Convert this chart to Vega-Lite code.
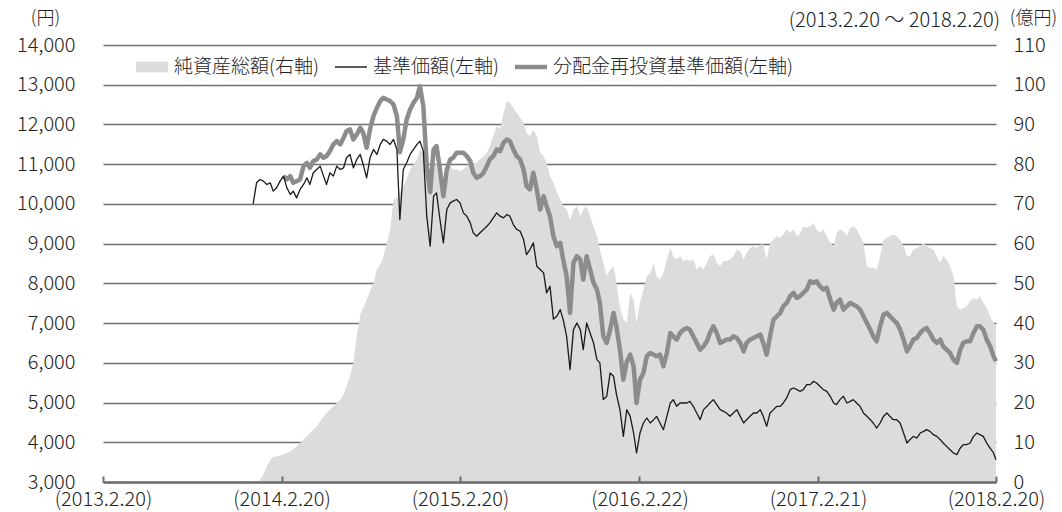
{
  "$schema": "https://vega.github.io/schema/vega-lite/v6.json",
  "width": 893,
  "height": 437,
  "autosize": {"type": "none"},
  "padding": {"left": 103, "top": 45, "right": 66, "bottom": 30},
  "background": "white",
  "config": {"view": {"stroke": null}, "font": "Noto Sans CJK JP"},
  "title": {"text": "(2013.2.20 ～ 2018.2.20)", "anchor": "end", "frame": "group", "fontSize": 20, "fontWeight": 300, "color": "#222222", "font": "Noto Sans CJK JP", "dx": 4, "dy": 22, "offset": 0},
  "data": {"values": [
    {"d": "2013-12-24", "price": 10000},
    {"d": "2013-12-31", "price": 10531},
    {"d": "2014-01-07", "price": 10615, "nav": 0.6},
    {"d": "2014-01-14", "price": 10573, "nav": 1.8},
    {"d": "2014-01-21", "price": 10489, "nav": 3.9},
    {"d": "2014-01-28", "price": 10531, "nav": 5.6},
    {"d": "2014-02-03", "price": 10321, "nav": 6.3},
    {"d": "2014-02-10", "price": 10405, "nav": 6.5},
    {"d": "2014-02-17", "price": 10573, "nav": 6.6},
    {"d": "2014-02-24", "price": 10699, "reinv": 10699, "nav": 6.9},
    {"d": "2014-03-03", "price": 10405, "reinv": 10615, "nav": 7.3},
    {"d": "2014-03-10", "price": 10237, "reinv": 10699, "nav": 7.7},
    {"d": "2014-03-16", "price": 10321, "reinv": 10531, "nav": 8.3},
    {"d": "2014-03-23", "price": 10153, "reinv": 10573, "nav": 9.0},
    {"d": "2014-03-30", "price": 10363, "reinv": 10615, "nav": 9.8},
    {"d": "2014-04-06", "price": 10489, "reinv": 10951, "nav": 10.7},
    {"d": "2014-04-13", "price": 10657, "reinv": 11035, "nav": 11.5},
    {"d": "2014-04-19", "price": 10489, "reinv": 10909, "nav": 12.3},
    {"d": "2014-04-26", "price": 10783, "reinv": 11077, "nav": 13.2},
    {"d": "2014-05-03", "price": 10867, "reinv": 11119, "nav": 14.0},
    {"d": "2014-05-10", "price": 10951, "reinv": 11245, "nav": 15.3},
    {"d": "2014-05-17", "price": 10699, "reinv": 11161, "nav": 16.5},
    {"d": "2014-05-23", "price": 10489, "reinv": 11203, "nav": 17.4},
    {"d": "2014-05-30", "price": 10783, "reinv": 11329, "nav": 18.2},
    {"d": "2014-06-06", "price": 10699, "reinv": 11497, "nav": 19.0},
    {"d": "2014-06-13", "price": 10951, "reinv": 11581, "nav": 19.9},
    {"d": "2014-06-20", "price": 10867, "reinv": 11497, "nav": 20.7},
    {"d": "2014-06-27", "price": 10909, "reinv": 11665, "nav": 22.0},
    {"d": "2014-07-03", "price": 11161, "reinv": 11833, "nav": 24.1},
    {"d": "2014-07-10", "price": 11245, "reinv": 11875, "nav": 26.6},
    {"d": "2014-07-17", "price": 10909, "reinv": 11623, "nav": 30.0},
    {"d": "2014-07-24", "price": 11119, "reinv": 11749, "nav": 36.7},
    {"d": "2014-07-31", "price": 11245, "reinv": 11917, "nav": 42.1},
    {"d": "2014-08-06", "price": 10993, "reinv": 11791, "nav": 43.8},
    {"d": "2014-08-13", "price": 10657, "reinv": 11413, "nav": 45.9},
    {"d": "2014-08-20", "price": 11161, "reinv": 11875, "nav": 48.0},
    {"d": "2014-08-27", "price": 11371, "reinv": 12210, "nav": 50.1},
    {"d": "2014-09-03", "price": 11245, "reinv": 12420, "nav": 53.5},
    {"d": "2014-09-10", "price": 11497, "reinv": 12588, "nav": 54.7},
    {"d": "2014-09-16", "price": 11623, "reinv": 12672, "nav": 56.5},
    {"d": "2014-09-23", "price": 11581, "reinv": 12630, "nav": 60.0},
    {"d": "2014-09-30", "price": 11497, "reinv": 12588, "nav": 63.5},
    {"d": "2014-10-07", "price": 11623, "reinv": 12504, "nav": 71.1},
    {"d": "2014-10-14", "price": 11371, "reinv": 12210, "nav": 71.5},
    {"d": "2014-10-20", "price": 9607, "reinv": 11300, "nav": 72.8},
    {"d": "2014-10-27", "price": 10867, "reinv": 11623, "nav": 74.5},
    {"d": "2014-11-03", "price": 11035, "reinv": 12126, "nav": 76.2},
    {"d": "2014-11-10", "price": 11245, "reinv": 12378, "nav": 78.7},
    {"d": "2014-11-17", "price": 11371, "reinv": 12546, "nav": 79.9},
    {"d": "2014-11-24", "price": 11497, "reinv": 12672, "nav": 81.2},
    {"d": "2014-11-30", "price": 11581, "reinv": 12966, "nav": 83.7},
    {"d": "2014-12-07", "price": 11329, "reinv": 12462, "nav": 82.9},
    {"d": "2014-12-14", "price": 9691, "reinv": 10951, "nav": 75.3},
    {"d": "2014-12-21", "price": 8936, "reinv": 10300, "nav": 76.1},
    {"d": "2014-12-28", "price": 10195, "reinv": 11371, "nav": 78.7},
    {"d": "2015-01-03", "price": 10279, "reinv": 11455, "nav": 80.4},
    {"d": "2015-01-10", "price": 9607, "reinv": 10867, "nav": 77.8},
    {"d": "2015-01-17", "price": 9020, "reinv": 10195, "nav": 75.7},
    {"d": "2015-01-24", "price": 9859, "reinv": 10867, "nav": 78.7},
    {"d": "2015-01-31", "price": 10027, "reinv": 11119, "nav": 79.5},
    {"d": "2015-02-06", "price": 10069, "reinv": 11161, "nav": 78.7},
    {"d": "2015-02-13", "price": 10111, "reinv": 11287, "nav": 78.7},
    {"d": "2015-02-20", "price": 10027, "reinv": 11287, "nav": 78.2},
    {"d": "2015-02-27", "price": 9775, "reinv": 11287, "nav": 78.7},
    {"d": "2015-03-06", "price": 9691, "reinv": 11203, "nav": 79.5},
    {"d": "2015-03-13", "price": 9523, "reinv": 11077, "nav": 80.4},
    {"d": "2015-03-19", "price": 9272, "reinv": 10783, "nav": 79.9},
    {"d": "2015-03-26", "price": 9188, "reinv": 10657, "nav": 80.4},
    {"d": "2015-04-02", "price": 9272, "reinv": 10699, "nav": 81.2},
    {"d": "2015-04-09", "price": 9355, "reinv": 10783, "nav": 82.0},
    {"d": "2015-04-16", "price": 9439, "reinv": 10951, "nav": 82.9},
    {"d": "2015-04-22", "price": 9523, "reinv": 11119, "nav": 84.5},
    {"d": "2015-04-29", "price": 9649, "reinv": 11203, "nav": 87.1},
    {"d": "2015-05-06", "price": 9775, "reinv": 11371, "nav": 89.6},
    {"d": "2015-05-13", "price": 9691, "reinv": 11329, "nav": 88.7},
    {"d": "2015-05-20", "price": 9649, "reinv": 11539, "nav": 92.9},
    {"d": "2015-05-27", "price": 9733, "reinv": 11623, "nav": 95.9},
    {"d": "2015-06-02", "price": 9691, "reinv": 11581, "nav": 95.5},
    {"d": "2015-06-09", "price": 9481, "reinv": 11371, "nav": 94.2},
    {"d": "2015-06-16", "price": 9355, "reinv": 11203, "nav": 92.9},
    {"d": "2015-06-23", "price": 9313, "reinv": 11119, "nav": 91.7},
    {"d": "2015-06-30", "price": 9104, "reinv": 10867, "nav": 90.4},
    {"d": "2015-07-06", "price": 8726, "reinv": 10447, "nav": 87.9},
    {"d": "2015-07-13", "price": 8852, "reinv": 10363, "nav": 87.1},
    {"d": "2015-07-20", "price": 9020, "reinv": 10783, "nav": 88.7},
    {"d": "2015-07-27", "price": 8432, "reinv": 10363, "nav": 87.1},
    {"d": "2015-08-03", "price": 8348, "reinv": 9859, "nav": 82.9},
    {"d": "2015-08-10", "price": 8264, "reinv": 10195, "nav": 82.0},
    {"d": "2015-08-16", "price": 7760, "reinv": 9943, "nav": 80.4},
    {"d": "2015-08-23", "price": 7928, "reinv": 9691, "nav": 77.0},
    {"d": "2015-08-30", "price": 7100, "reinv": 9188, "nav": 75.3},
    {"d": "2015-09-06", "price": 7172, "reinv": 8936, "nav": 72.8},
    {"d": "2015-09-13", "price": 7340, "reinv": 9020, "nav": 71.1},
    {"d": "2015-09-19", "price": 7088, "reinv": 8600, "nav": 69.4},
    {"d": "2015-09-26", "price": 6668, "reinv": 8180, "nav": 68.6},
    {"d": "2015-10-03", "price": 5829, "reinv": 7256, "nav": 66.1},
    {"d": "2015-10-10", "price": 6836, "reinv": 8516, "nav": 68.6},
    {"d": "2015-10-17", "price": 7004, "reinv": 8684, "nav": 69.4},
    {"d": "2015-10-24", "price": 6836, "reinv": 8600, "nav": 66.9},
    {"d": "2015-10-30", "price": 6333, "reinv": 8096, "nav": 68.6},
    {"d": "2015-11-06", "price": 7004, "reinv": 8684, "nav": 69.4},
    {"d": "2015-11-13", "price": 6752, "reinv": 8348, "nav": 66.9},
    {"d": "2015-11-20", "price": 6500, "reinv": 8012, "nav": 64.4},
    {"d": "2015-11-27", "price": 6080, "reinv": 7844, "nav": 61.9},
    {"d": "2015-12-03", "price": 5997, "reinv": 7508, "nav": 58.5},
    {"d": "2015-12-10", "price": 5073, "reinv": 6668, "nav": 55.2},
    {"d": "2015-12-17", "price": 5157, "reinv": 6500, "nav": 51.8},
    {"d": "2015-12-24", "price": 5745, "reinv": 6836, "nav": 53.5},
    {"d": "2015-12-31", "price": 5661, "reinv": 7256, "nav": 54.3},
    {"d": "2016-01-06", "price": 5200, "reinv": 6900, "nav": 50.0},
    {"d": "2016-01-13", "price": 4821, "reinv": 6332, "nav": 44.0},
    {"d": "2016-01-20", "price": 4149, "reinv": 5577, "nav": 41.0},
    {"d": "2016-01-27", "price": 4821, "reinv": 6030, "nav": 40.0},
    {"d": "2016-02-03", "price": 4653, "reinv": 6206, "nav": 47.6},
    {"d": "2016-02-10", "price": 4233, "reinv": 5913, "nav": 45.9},
    {"d": "2016-02-16", "price": 3730, "reinv": 4989, "nav": 40.0},
    {"d": "2016-02-23", "price": 4233, "reinv": 5577, "nav": 45.1},
    {"d": "2016-03-01", "price": 4485, "reinv": 5745, "nav": 48.4},
    {"d": "2016-03-08", "price": 4611, "reinv": 6164, "nav": 51.8},
    {"d": "2016-03-15", "price": 4485, "reinv": 6248, "nav": 52.6},
    {"d": "2016-03-22", "price": 4569, "reinv": 6206, "nav": 55.2},
    {"d": "2016-03-28", "price": 4653, "reinv": 6164, "nav": 51.8},
    {"d": "2016-04-04", "price": 4485, "reinv": 6206, "nav": 51.0},
    {"d": "2016-04-11", "price": 4317, "reinv": 5913, "nav": 52.6},
    {"d": "2016-04-18", "price": 4653, "reinv": 6248, "nav": 56.0},
    {"d": "2016-04-25", "price": 4989, "reinv": 6752, "nav": 58.9},
    {"d": "2016-05-01", "price": 5073, "reinv": 6668, "nav": 56.8},
    {"d": "2016-05-08", "price": 4905, "reinv": 6584, "nav": 56.0},
    {"d": "2016-05-15", "price": 4989, "reinv": 6752, "nav": 56.8},
    {"d": "2016-05-22", "price": 4989, "reinv": 6836, "nav": 55.6},
    {"d": "2016-05-29", "price": 4989, "reinv": 6878, "nav": 56.0},
    {"d": "2016-06-04", "price": 5031, "reinv": 6836, "nav": 55.6},
    {"d": "2016-06-11", "price": 4905, "reinv": 6668, "nav": 56.0},
    {"d": "2016-06-18", "price": 4737, "reinv": 6500, "nav": 53.5},
    {"d": "2016-06-25", "price": 4569, "reinv": 6332, "nav": 54.3},
    {"d": "2016-07-02", "price": 4821, "reinv": 6416, "nav": 53.5},
    {"d": "2016-07-09", "price": 4905, "reinv": 6542, "nav": 55.2},
    {"d": "2016-07-15", "price": 4989, "reinv": 6752, "nav": 56.8},
    {"d": "2016-07-22", "price": 5073, "reinv": 6920, "nav": 57.3},
    {"d": "2016-07-29", "price": 4947, "reinv": 6752, "nav": 55.2},
    {"d": "2016-08-05", "price": 4821, "reinv": 6500, "nav": 54.3},
    {"d": "2016-08-12", "price": 4779, "reinv": 6542, "nav": 55.6},
    {"d": "2016-08-18", "price": 4737, "reinv": 6584, "nav": 55.6},
    {"d": "2016-08-25", "price": 4653, "reinv": 6584, "nav": 56.0},
    {"d": "2016-09-01", "price": 4737, "reinv": 6668, "nav": 56.8},
    {"d": "2016-09-08", "price": 4821, "reinv": 6626, "nav": 58.5},
    {"d": "2016-09-15", "price": 4653, "reinv": 6500, "nav": 58.1},
    {"d": "2016-09-22", "price": 4485, "reinv": 6290, "nav": 56.0},
    {"d": "2016-09-28", "price": 4569, "reinv": 6500, "nav": 57.7},
    {"d": "2016-10-05", "price": 4653, "reinv": 6584, "nav": 58.9},
    {"d": "2016-10-12", "price": 4737, "reinv": 6626, "nav": 59.4},
    {"d": "2016-10-19", "price": 4737, "reinv": 6668, "nav": 58.9},
    {"d": "2016-10-26", "price": 4821, "reinv": 6710, "nav": 59.8},
    {"d": "2016-11-01", "price": 4653, "reinv": 6500, "nav": 59.8},
    {"d": "2016-11-08", "price": 4401, "reinv": 6206, "nav": 56.0},
    {"d": "2016-11-15", "price": 4737, "reinv": 6668, "nav": 60.2},
    {"d": "2016-11-22", "price": 4821, "reinv": 7088, "nav": 61.0},
    {"d": "2016-11-29", "price": 4905, "reinv": 7172, "nav": 61.9},
    {"d": "2016-12-06", "price": 4905, "reinv": 7256, "nav": 61.5},
    {"d": "2016-12-12", "price": 4989, "reinv": 7424, "nav": 62.3},
    {"d": "2016-12-19", "price": 5115, "reinv": 7508, "nav": 63.6},
    {"d": "2016-12-26", "price": 5325, "reinv": 7676, "nav": 62.7},
    {"d": "2017-01-02", "price": 5367, "reinv": 7760, "nav": 63.6},
    {"d": "2017-01-09", "price": 5325, "reinv": 7634, "nav": 61.9},
    {"d": "2017-01-15", "price": 5283, "reinv": 7676, "nav": 62.3},
    {"d": "2017-01-22", "price": 5325, "reinv": 7760, "nav": 64.4},
    {"d": "2017-01-29", "price": 5451, "reinv": 7844, "nav": 64.0},
    {"d": "2017-02-05", "price": 5451, "reinv": 8054, "nav": 64.4},
    {"d": "2017-02-12", "price": 5535, "reinv": 8012, "nav": 65.2},
    {"d": "2017-02-18", "price": 5493, "reinv": 8054, "nav": 63.6},
    {"d": "2017-02-25", "price": 5409, "reinv": 7928, "nav": 62.7},
    {"d": "2017-03-04", "price": 5325, "reinv": 7844, "nav": 63.6},
    {"d": "2017-03-11", "price": 5283, "reinv": 7886, "nav": 61.9},
    {"d": "2017-03-18", "price": 5157, "reinv": 7592, "nav": 60.2},
    {"d": "2017-03-25", "price": 4989, "reinv": 7340, "nav": 59.4},
    {"d": "2017-03-31", "price": 4947, "reinv": 7508, "nav": 62.7},
    {"d": "2017-04-07", "price": 5073, "reinv": 7592, "nav": 63.6},
    {"d": "2017-04-14", "price": 5157, "reinv": 7340, "nav": 63.1},
    {"d": "2017-04-21", "price": 4989, "reinv": 7424, "nav": 61.9},
    {"d": "2017-04-28", "price": 5031, "reinv": 7508, "nav": 64.0},
    {"d": "2017-05-04", "price": 5073, "reinv": 7466, "nav": 64.4},
    {"d": "2017-05-11", "price": 4989, "reinv": 7424, "nav": 63.6},
    {"d": "2017-05-18", "price": 4905, "reinv": 7340, "nav": 61.9},
    {"d": "2017-05-25", "price": 4737, "reinv": 7172, "nav": 60.2},
    {"d": "2017-06-01", "price": 4653, "reinv": 7004, "nav": 54.3},
    {"d": "2017-06-08", "price": 4569, "reinv": 6836, "nav": 53.9},
    {"d": "2017-06-14", "price": 4485, "reinv": 6668, "nav": 53.9},
    {"d": "2017-06-21", "price": 4359, "reinv": 6542, "nav": 53.5},
    {"d": "2017-06-28", "price": 4485, "reinv": 6920, "nav": 56.8},
    {"d": "2017-07-05", "price": 4653, "reinv": 7214, "nav": 61.0},
    {"d": "2017-07-12", "price": 4737, "reinv": 7256, "nav": 61.5},
    {"d": "2017-07-18", "price": 4653, "reinv": 7172, "nav": 61.9},
    {"d": "2017-07-25", "price": 4569, "reinv": 7088, "nav": 62.3},
    {"d": "2017-08-01", "price": 4569, "reinv": 7004, "nav": 61.9},
    {"d": "2017-08-08", "price": 4485, "reinv": 6836, "nav": 61.0},
    {"d": "2017-08-15", "price": 4233, "reinv": 6584, "nav": 59.4},
    {"d": "2017-08-22", "price": 3981, "reinv": 6290, "nav": 56.8},
    {"d": "2017-08-28", "price": 4065, "reinv": 6416, "nav": 56.8},
    {"d": "2017-09-04", "price": 4149, "reinv": 6584, "nav": 58.5},
    {"d": "2017-09-11", "price": 4107, "reinv": 6626, "nav": 58.9},
    {"d": "2017-09-18", "price": 4233, "reinv": 6752, "nav": 59.4},
    {"d": "2017-09-25", "price": 4275, "reinv": 6836, "nav": 60.2},
    {"d": "2017-10-01", "price": 4317, "reinv": 6878, "nav": 59.4},
    {"d": "2017-10-08", "price": 4275, "reinv": 6752, "nav": 58.9},
    {"d": "2017-10-15", "price": 4191, "reinv": 6584, "nav": 58.5},
    {"d": "2017-10-22", "price": 4149, "reinv": 6500, "nav": 56.8},
    {"d": "2017-10-29", "price": 4065, "reinv": 6584, "nav": 55.2},
    {"d": "2017-11-04", "price": 3981, "reinv": 6416, "nav": 56.8},
    {"d": "2017-11-11", "price": 3897, "reinv": 6332, "nav": 56.0},
    {"d": "2017-11-18", "price": 3813, "reinv": 6248, "nav": 54.3},
    {"d": "2017-11-25", "price": 3730, "reinv": 6080, "nav": 51.8},
    {"d": "2017-12-02", "price": 3688, "reinv": 5997, "nav": 44.2},
    {"d": "2017-12-09", "price": 3855, "reinv": 6332, "nav": 43.4},
    {"d": "2017-12-15", "price": 3939, "reinv": 6500, "nav": 43.8},
    {"d": "2017-12-22", "price": 3939, "reinv": 6542, "nav": 44.2},
    {"d": "2017-12-29", "price": 3981, "reinv": 6542, "nav": 45.5},
    {"d": "2018-01-05", "price": 4149, "reinv": 6752, "nav": 46.3},
    {"d": "2018-01-12", "price": 4233, "reinv": 6920, "nav": 45.9},
    {"d": "2018-01-18", "price": 4191, "reinv": 6920, "nav": 46.8},
    {"d": "2018-01-25", "price": 4149, "reinv": 6836, "nav": 45.1},
    {"d": "2018-02-01", "price": 3981, "reinv": 6584, "nav": 43.8},
    {"d": "2018-02-08", "price": 3855, "reinv": 6416, "nav": 41.7},
    {"d": "2018-02-15", "price": 3730, "reinv": 6164, "nav": 40.0},
    {"d": "2018-02-20", "price": 3561, "reinv": 6039, "nav": 39.6}
  ]},
  "encoding": {
    "x": {
      "field": "d", "type": "temporal",
      "scale": {"type": "utc", "domain": [{"year": 2013, "month": 2, "date": 20, "utc": true}, {"year": 2018, "month": 2, "date": 20, "utc": true}]},
      "axis": {
        "title": null,
        "values": [
          {"year": 2013, "month": 2, "date": 20, "utc": true},
          {"year": 2014, "month": 2, "date": 20, "utc": true},
          {"year": 2015, "month": 2, "date": 20, "utc": true},
          {"year": 2016, "month": 2, "date": 22, "utc": true},
          {"year": 2017, "month": 2, "date": 21, "utc": true},
          {"year": 2018, "month": 2, "date": 20, "utc": true}
        ],
        "labelExpr": "'(' + utcFormat(datum.value, '%Y.%-m.%-d') + ')'",
        "grid": false, "domain": true, "domainColor": "#6d6d6d", "domainWidth": 2.5,
        "ticks": true, "tickColor": "#6d6d6d", "tickWidth": 2, "tickSize": -6,
        "labelPadding": 13, "labelFontSize": 20, "labelFontWeight": 300, "labelColor": "#222222", "labelFont": "Noto Sans CJK JP",
        "labelFlush": false, "labelOverlap": false, "zindex": 1
      }
    }
  },
  "layer": [
    {
      "mark": {"type": "area", "interpolate": "linear"},
      "encoding": {
        "y": {
          "field": "nav", "type": "quantitative",
          "scale": {"domain": [0, 110], "nice": false},
          "axis": {
            "orient": "right", "values": [0, 10, 20, 30, 40, 50, 60, 70, 80, 90, 100, 110],
            "grid": false, "domain": false, "ticks": false, "labelPadding": 17,
            "labelFontSize": 20, "labelFontWeight": 300, "labelColor": "#222222", "labelFont": "Noto Sans CJK JP",
            "title": "(億円)", "titleAngle": 0, "titleX": 37, "titleY": -27, "titleAlign": "center", "titleBaseline": "middle",
            "titleFontSize": 18, "titleFontWeight": 300, "titleColor": "#222222", "titleFont": "Noto Sans CJK JP"
          }
        },
        "color": {
          "datum": "純資産総額(右軸)",
          "scale": {"domain": ["純資産総額(右軸)", "基準価額(左軸)", "分配金再投資基準価額(左軸)"], "range": ["#dcdcdd", "#1a1a1a", "#8c8c8c"]},
          "legend": {
            "orient": "none", "legendX": 33, "legendY": 6, "direction": "horizontal", "title": null,
            "symbolSize": 1024, "labelOffset": 6, "columnPadding": 16, "padding": 0, "labelLimit": 400,
            "labelFontSize": 19, "labelFontWeight": 300, "labelFont": "Noto Sans CJK JP", "labelColor": "#222222",
            "encode": {"symbols": {"update": {
              "shape": {"signal": "datum.value === '純資産総額(右軸)' ? 'M-1,-0.34H1V0.34H-1Z' : datum.value === '基準価額(左軸)' ? 'M-1,-0.045H1V0.045H-1Z' : 'M-1,-0.14H1V0.14H-1Z'"},
              "fill": {"signal": "datum.value === '純資産総額(右軸)' ? '#dcdcdd' : datum.value === '基準価額(左軸)' ? '#1a1a1a' : '#8c8c8c'"},
              "stroke": {"value": "transparent"}, "strokeWidth": {"value": 0},
              "size": {"value": 1024}, "opacity": {"value": 1}, "fillOpacity": {"value": 1}
            }}}
          }
        }
      }
    },
    {
      "layer": [
        {
          "mark": {"type": "line", "strokeWidth": 4.5, "strokeJoin": "round"},
          "encoding": {
            "y": {
              "field": "reinv", "type": "quantitative",
              "scale": {"domain": [3000, 14000], "nice": false, "zero": false},
              "axis": {
                "orient": "left", "values": [3000, 4000, 5000, 6000, 7000, 8000, 9000, 10000, 11000, 12000, 13000, 14000],
                "labelExpr": "format(datum.value, ',.0f')", "grid": true, "gridColor": "#707070", "gridWidth": 1.4,
                "domain": false, "ticks": false, "labelPadding": 28,
                "labelFontSize": 20, "labelFontWeight": 300, "labelColor": "#222222", "labelFont": "Noto Sans CJK JP",
                "title": "(円)", "titleAngle": 0, "titleX": -58, "titleY": -27, "titleAlign": "center", "titleBaseline": "middle",
                "titleFontSize": 18, "titleFontWeight": 300, "titleColor": "#222222", "titleFont": "Noto Sans CJK JP"
              }
            },
            "color": {"datum": "分配金再投資基準価額(左軸)"}
          }
        },
        {
          "mark": {"type": "line", "strokeWidth": 1.3, "strokeJoin": "round"},
          "encoding": {
            "y": {
              "field": "price", "type": "quantitative",
              "scale": {"domain": [3000, 14000], "nice": false, "zero": false},
              "axis": {
                "orient": "left", "values": [3000, 4000, 5000, 6000, 7000, 8000, 9000, 10000, 11000, 12000, 13000, 14000],
                "labelExpr": "format(datum.value, ',.0f')", "grid": true, "gridColor": "#707070", "gridWidth": 1.4,
                "domain": false, "ticks": false, "labelPadding": 28,
                "labelFontSize": 20, "labelFontWeight": 300, "labelColor": "#222222", "labelFont": "Noto Sans CJK JP",
                "title": "(円)", "titleAngle": 0, "titleX": -58, "titleY": -27, "titleAlign": "center", "titleBaseline": "middle",
                "titleFontSize": 18, "titleFontWeight": 300, "titleColor": "#222222", "titleFont": "Noto Sans CJK JP"
              }
            },
            "color": {"datum": "基準価額(左軸)"}
          }
        }
      ]
    }
  ],
  "resolve": {"scale": {"y": "independent"}}
}
